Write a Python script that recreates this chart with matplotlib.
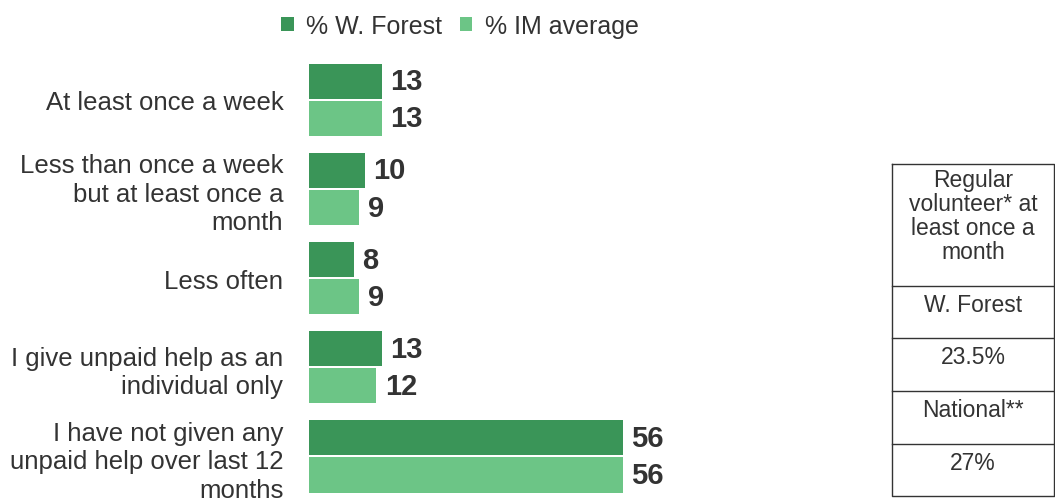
import numpy as np
import matplotlib.pyplot as plt

plt.rcParams['font.family'] = ['Liberation Sans', 'DejaVu Sans']

categories = ["At least once a week",
              "Less than once a week\nbut at least once a\nmonth",
              "Less often",
              "I give unpaid help as an\nindividual only",
              "I have not given any\nunpaid help over last 12\nmonths"]
wforest = [13, 10, 8, 13, 56]
im_avg = [13, 9, 9, 12, 56]
series_names = ["% W. Forest", "% IM average"]
table_rows = ["Regular\nvolunteer* at\nleast once a\nmonth", "W. Forest", "23.5%", "National**", "27%"]

dark = "#3a9558"
light = "#6cc586"
W, H = 1055, 502

fig = plt.figure(figsize=(W / 100, H / 100), dpi=100)
ax = fig.add_axes([309 / W, 0, 392.5 / W, 1 - 58 / H])

y = np.arange(len(categories))
h = 0.395
ax.barh(y - h / 2 - 0.011, wforest, height=h, color=dark, label=series_names[0])
ax.barh(y + h / 2 + 0.011, im_avg, height=h, color=light, label=series_names[1])
for i in range(len(categories)):
    ax.text(wforest[i] + 1.5, y[i] - h / 2 - 0.011, str(wforest[i]), va="center", ha="left",
            fontsize=21, fontweight="bold", color="#333333")
    ax.text(im_avg[i] + 1.5, y[i] + h / 2 + 0.011, str(im_avg[i]), va="center", ha="left",
            fontsize=21, fontweight="bold", color="#333333")

ax.set_xlim(0, 70)
ax.set_ylim(len(categories) - 0.5, -0.5 + 0.02)
ax.set_yticks(y)
ax.set_yticklabels(categories, fontsize=18.5, color="#333333", linespacing=1.24)
ax.tick_params(axis="y", length=0, pad=18.5)
ax.set_xticks([])
for s in ax.spines.values():
    s.set_visible(False)

leg = fig.legend(loc="center", bbox_to_anchor=(460 / W, 1 - 27 / H), ncol=2, frameon=False,
                 fontsize=18, handlelength=0.5, handleheight=0.5, handletextpad=0.5,
                 columnspacing=0.7, borderaxespad=0)
for t in leg.get_texts():
    t.set_color("#333333")

# side table
tl, tr, tt, tb = 892, 1054, 165, 497
lines = [tt, 287, 339, 392, 445, tb]
tax = fig.add_axes([0, 0, 1, 1])
tax.set_xlim(0, W)
tax.set_ylim(H, 0)
tax.axis("off")
tax.plot([tl, tr, tr, tl, tl], [tt, tt, tb, tb, tt], color="#333333", lw=1)
for yy in lines[1:-1]:
    tax.plot([tl, tr], [yy, yy], color="#333333", lw=1)
for i, txt in enumerate(table_rows):
    top = lines[i] + (4 if i == 0 else 7)
    tax.text((tl + tr) / 2, top, txt, ha="center", va="top", fontsize=16.5, color="#333333",
             linespacing=1.05)

fig.savefig("out.png", dpi=100)
